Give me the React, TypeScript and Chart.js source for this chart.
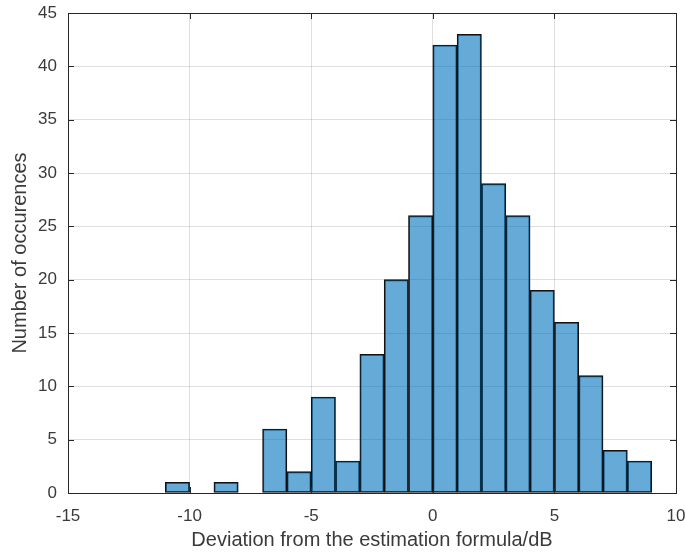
import React, { useEffect, useRef } from "react";
import { Chart, registerables } from "chart.js";

Chart.register(...registerables);

const binCenters = [-10.5, -8.5, -6.5, -5.5, -4.5, -3.5, -2.5, -1.5, -0.5, 0.5, 1.5, 2.5, 3.5, 4.5, 5.5, 6.5, 7.5, 8.5];
const counts = [1, 1, 6, 2, 9, 3, 13, 20, 26, 42, 43, 29, 26, 19, 16, 11, 4, 3];
const xTicks = [-15, -10, -5, 0, 5, 10];
const yTicks = [0, 5, 10, 15, 20, 25, 30, 35, 40, 45];
const xTitle = "Deviation from the estimation formula/dB";
const yTitle = "Number of occurences";

const AXIS = "#262626";
const TEXT = "#3a3a3a";
const GRID = "rgba(38,38,38,0.15)";
const FONT = "'Liberation Sans', Arial, sans-serif";

const boxPlugin = {
  id: "box",
  afterDraw(chart: any) {
    const { ctx, chartArea: a, scales } = chart;
    ctx.save();
    ctx.strokeStyle = AXIS;
    ctx.lineWidth = 1;
    ctx.strokeRect(Math.round(a.left) + 0.5, Math.round(a.top) + 0.5, Math.round(a.right - a.left), Math.round(a.bottom - a.top));
    const L = 6;
    ctx.beginPath();
    for (const v of xTicks) {
      const x = Math.round(scales.x.getPixelForValue(v)) + 0.5;
      ctx.moveTo(x, a.bottom);
      ctx.lineTo(x, a.bottom - L);
      ctx.moveTo(x, a.top);
      ctx.lineTo(x, a.top + L);
    }
    for (const v of yTicks) {
      const y = Math.round(scales.y.getPixelForValue(v)) + 0.5;
      ctx.moveTo(a.left, y);
      ctx.lineTo(a.left + L, y);
      ctx.moveTo(a.right, y);
      ctx.lineTo(a.right - L, y);
    }
    ctx.stroke();
    ctx.restore();
  },
};

export default function App() {
  const ref = useRef<HTMLCanvasElement>(null);
  useEffect(() => {
    document.body.style.margin = "0";
    const chart = new Chart(ref.current!, {
      type: "bar",
      data: {
        datasets: [
          {
            data: binCenters.map((x, i) => ({ x, y: counts[i] })),
            backgroundColor: "rgba(0,114,189,0.6)",
            borderColor: "#111111",
            borderWidth: 1.2,
            barPercentage: 1,
            categoryPercentage: 1,
            borderSkipped: false,
          },
        ],
      },
      options: {
        animation: false,
        responsive: false,
        maintainAspectRatio: false,
        layout: { padding: { left: 0, right: 10, top: 13, bottom: 0 } },
        plugins: { legend: { display: false }, tooltip: { enabled: false } },
        scales: {
          x: {
            type: "linear",
            offset: false,
            min: -15,
            max: 10,
            afterBuildTicks: (s: any) => {
              s.ticks = xTicks.map((v) => ({ value: v }));
            },
            afterFit: (s: any) => {
              s.height = 61;
              s.paddingLeft = 0;
              s.paddingRight = 0;
            },
            grid: { color: GRID, drawTicks: false, tickLength: 0, offset: false },
            border: { display: false },
            ticks: { color: TEXT, font: { family: FONT, size: 17 }, padding: 13, maxRotation: 0 },
            title: { display: true, text: xTitle, color: TEXT, font: { family: FONT, size: 20 }, padding: { top: 2, bottom: 2 } },
          },
          y: {
            min: 0,
            max: 45,
            afterBuildTicks: (s: any) => {
              s.ticks = yTicks.map((v) => ({ value: v }));
            },
            afterFit: (s: any) => {
              s.width = 68;
              s.paddingTop = 0;
              s.paddingBottom = 0;
            },
            grid: { color: GRID, drawTicks: false, tickLength: 0, offset: false },
            border: { display: false },
            ticks: { color: TEXT, font: { family: FONT, size: 17 }, padding: 11 },
            title: { display: true, text: yTitle, color: TEXT, font: { family: FONT, size: 20 }, padding: { top: 8, bottom: 2 } },
          },
        },
      },
      plugins: [boxPlugin],
    } as any);
    return () => chart.destroy();
  }, []);
  return (
    <div style={{ width: 686, height: 554 }}>
      <canvas ref={ref} width={686} height={554} style={{ display: "block", background: "#fff" }} />
    </div>
  );
}
